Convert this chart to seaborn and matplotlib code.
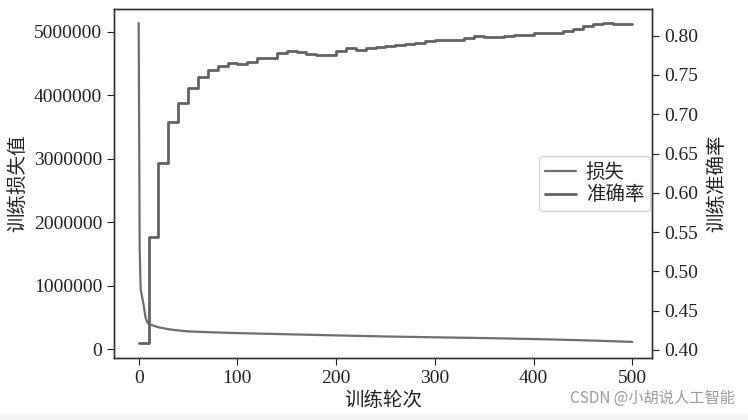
import numpy as np
import pandas as pd
import matplotlib
matplotlib.use('Agg')
import matplotlib.pyplot as plt
import seaborn as sns

# loss values (epoch, loss)
loss_epochs = [0, 1, 2, 3, 5, 7, 9, 12, 16, 20, 25, 30, 40, 50, 75, 100, 150, 200, 250, 300, 350, 400, 450, 500]
loss_values = [5140000, 1600000, 950000, 870000, 700000, 500000, 420000, 390000, 370000, 350000, 335000, 320000,
               300000, 285000, 270000, 258000, 240000, 222000, 205000, 192000, 180000, 165000, 145000, 120000]

# accuracy recorded every 10 epochs
acc_epochs = list(range(0, 501, 10))
acc_values = [0.409, 0.544, 0.638, 0.690, 0.714, 0.734, 0.747, 0.756, 0.761, 0.765,
              0.764, 0.767, 0.772, 0.772, 0.778, 0.780, 0.779, 0.777, 0.775, 0.775,
              0.781, 0.784, 0.782, 0.784, 0.786, 0.787, 0.788, 0.790, 0.791, 0.793,
              0.795, 0.795, 0.795, 0.797, 0.799, 0.798, 0.798, 0.800, 0.801, 0.801,
              0.803, 0.804, 0.804, 0.806, 0.809, 0.812, 0.815, 0.816, 0.815, 0.815,
              0.815]

left_ticks = [0, 1000000, 2000000, 3000000, 4000000, 5000000]
right_ticks = [0.40, 0.45, 0.50, 0.55, 0.60, 0.65, 0.70, 0.75, 0.80]
x_ticks = [0, 100, 200, 300, 400, 500]

sns.set_style('ticks')
plt.rcParams['font.family'] = ['Liberation Serif', 'Noto Sans CJK SC']
plt.rcParams['axes.unicode_minus'] = False
cjk = ['Noto Sans CJK SC', 'DejaVu Sans']

fig, ax = plt.subplots(figsize=(7.48, 4.2), dpi=100)
fig.subplots_adjust(left=114/748, right=652/748, top=1-9/420, bottom=1-358/420)
ax2 = ax.twinx()

loss_df = pd.DataFrame({'epoch': loss_epochs, 'loss': loss_values})
acc_df = pd.DataFrame({'epoch': acc_epochs, 'acc': acc_values})

sns.lineplot(data=loss_df, x='epoch', y='loss', ax=ax, color='#6e6e6e', linewidth=1.6, label='损失', legend=False)
sns.lineplot(data=acc_df, x='epoch', y='acc', ax=ax2, color='#626262', linewidth=2.0,
             drawstyle='steps-post', label='准确率', legend=False)

ax.set_xlim(-25, 520)
ax.set_ylim(-134000, 5362000)
ax2.set_ylim(0.3898, 0.834)
ax.set_xticks(x_ticks)
ax.set_yticks(left_ticks)
ax.set_yticklabels([str(v) for v in left_ticks])
ax2.set_yticks(right_ticks)
ax2.set_yticklabels(['%.2f' % v for v in right_ticks])

for a in (ax, ax2):
    a.tick_params(labelsize=14, length=5, width=0.8, colors='#222222')
    for s in a.spines.values():
        s.set_color('#333333')
        s.set_linewidth(1.0)

ax.set_xlabel('训练轮次', family=cjk, fontsize=14, color='#222222', labelpad=2, weight='light')
ax.set_ylabel('训练损失值', family=cjk, fontsize=14, color='#222222', labelpad=4, weight='light')
ax2.set_ylabel('训练准确率', family=cjk, fontsize=14, color='#222222', labelpad=6, weight='light')

h1, l1 = ax.get_legend_handles_labels()
h2, l2 = ax2.get_legend_handles_labels()
leg = ax2.legend(h1 + h2, l1 + l2, loc='center right', bbox_to_anchor=(1.0, 0.5),
                 prop={'family': cjk, 'size': 14, 'weight': 'light'}, handlelength=1.6, handletextpad=0.5,
                 labelspacing=0.1, borderpad=0.3, borderaxespad=0.1, frameon=True)
leg.get_frame().set_edgecolor('#cccccc')

fig.text(0.983, 0.052, 'CSDN @小胡说人工智能', ha='right', va='center', fontsize=11,
         color='#9a9a9a', family=cjk)
fig.patches.append(plt.Rectangle((0, 0), 1, 6/420, transform=fig.transFigure,
                                 facecolor='#f3f3f3', edgecolor='none', zorder=-1))

plt.savefig('out.png', dpi=100)
